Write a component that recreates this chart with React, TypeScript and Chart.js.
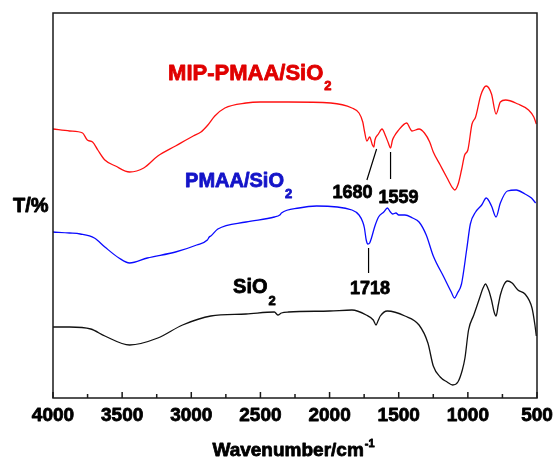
import { useEffect, useRef } from "react";
import { Chart, registerables } from "chart.js";

Chart.register(...registerables);

// FTIR spectra, transmittance in arbitrary offset units
const mipWavenumbers = [4000, 3880, 3786, 3752, 3714, 3676, 3625, 3548, 3446, 3344, 3242, 3114, 2986, 2930, 2880, 2830, 2757, 2604, 2501, 2300, 1991, 1838, 1787, 1760, 1748, 1730, 1710, 1690, 1680, 1672, 1647, 1621, 1595, 1575, 1559, 1545, 1531, 1506, 1442, 1420, 1404, 1353, 1314, 1276, 1250, 1200, 1150, 1110, 1095, 1070, 1046, 1023, 1000, 970, 944, 906, 867, 829, 796, 765, 727, 638, 561, 523, 505];
const mipValues = [269, 267, 265, 258, 256, 248, 238, 232, 226, 230, 242, 252, 262, 266, 273, 282, 290, 295, 296, 296, 295, 290, 285, 276, 267, 257, 261, 253, 251, 258, 264, 269, 262, 255, 250, 258, 262, 267, 275, 270, 267, 269, 265, 256, 246, 233, 220, 210, 208, 214, 228, 243, 248, 274, 281, 303, 312, 304, 284, 296, 298, 294, 288, 281, 274];

const pmaaWavenumbers = [4000, 3880, 3803, 3701, 3625, 3523, 3446, 3318, 3114, 2961, 2884, 2870, 2859, 2808, 2604, 2399, 2360, 2348, 2221, 2093, 1838, 1787, 1760, 1748, 1735, 1723, 1710, 1697, 1672, 1646, 1608, 1582, 1560, 1544, 1520, 1500, 1455, 1400, 1353, 1301, 1250, 1174, 1120, 1097, 1075, 1046, 1008, 982, 944, 900, 867, 829, 796, 765, 714, 650, 587, 540, 510];
const pmaaValues = [166, 165, 164, 160, 151, 140, 135, 140, 146, 153, 158, 161, 162, 169, 176, 181, 183, 185, 190, 192, 188, 183, 176, 170, 158, 154, 155, 160, 172, 181, 186, 190, 186, 184, 185, 183, 183, 180, 176, 163, 142, 121, 106, 100, 105, 114, 149, 174, 186, 193, 200, 192, 181, 195, 207, 208, 204, 200, 195];

const silicaWavenumbers = [4000, 3880, 3727, 3625, 3446, 3242, 3063, 2859, 2604, 2399, 2374, 2348, 2297, 2000, 1838, 1735, 1684, 1664, 1650, 1633, 1582, 1455, 1353, 1289, 1250, 1200, 1150, 1110, 1072, 1040, 1021, 995, 957, 920, 890, 873, 850, 829, 810, 796, 780, 765, 740, 714, 680, 638, 587, 536, 515, 505];
const silicaValues = [71, 71, 69, 62, 53, 60, 73, 82, 84, 86, 83, 85, 86, 87, 88, 83, 78, 73, 77, 82, 87, 82, 73, 55, 32, 21, 16, 13, 16, 28, 40, 68, 83, 98, 110, 114, 108, 98, 86, 82, 93, 103, 113, 117, 115, 108, 104, 90, 73, 62];

const seriesNames = ["MIP-PMAA/SiO", "PMAA/SiO", "SiO"];
const peakWavenumbers = [1680, 1559, 1718];
const tickWavenumbers = [4000, 3500, 3000, 2500, 2000, 1500, 1000, 500];

const FONT = '"Liberation Sans", Arial, sans-serif';

function toPoints(xs: number[], ys: number[]) {
  return xs.map((x, i) => ({ x, y: ys[i] }));
}

// heavy bold text: fill plus a thin outline of the same colour
function heavyText(ctx: CanvasRenderingContext2D, text: string, x: number, y: number, color: string) {
  ctx.fillStyle = color;
  ctx.strokeStyle = color;
  ctx.lineWidth = 0.8;
  ctx.lineJoin = "round";
  ctx.fillText(text, x, y);
  ctx.strokeText(text, x, y);
}

// text followed by a lowered (sub) or raised (sup) small suffix
function drawWithIndex(
  ctx: CanvasRenderingContext2D,
  text: string,
  index: string,
  x: number,
  y: number,
  size: number,
  indexSize: number,
  shift: number,
  color: string,
  align: "left" | "center"
) {
  ctx.font = `bold ${size}px ${FONT}`;
  const w = ctx.measureText(text).width;
  ctx.font = `bold ${indexSize}px ${FONT}`;
  const wi = ctx.measureText(index).width;
  const start = align === "center" ? x - (w + wi) / 2 : x;
  ctx.textAlign = "left";
  ctx.textBaseline = "alphabetic";
  ctx.font = `bold ${size}px ${FONT}`;
  heavyText(ctx, text, start, y, color);
  ctx.font = `bold ${indexSize}px ${FONT}`;
  heavyText(ctx, index, start + w + 1, y + shift, color);
}

const overlay = {
  id: "ftirOverlay",
  afterDraw(chart: any) {
    const { ctx, chartArea: a, scales } = chart;
    const xs = scales.x;
    const ys = scales.y;
    const px = (v: number) => xs.getPixelForValue(v);
    const py = (v: number) => ys.getPixelForValue(v);
    ctx.save();

    // frame
    ctx.strokeStyle = "#1a1a1a";
    ctx.lineWidth = 1.5;
    ctx.strokeRect(a.left, a.top, a.right - a.left, a.bottom - a.top);

    // inward ticks on the wavenumber axis
    ctx.beginPath();
    tickWavenumbers.forEach((v, i) => {
      const x = px(v);
      ctx.moveTo(x, a.bottom);
      ctx.lineTo(x, a.bottom - 6);
      if (i < tickWavenumbers.length - 1) {
        const m = px((v + tickWavenumbers[i + 1]) / 2);
        ctx.moveTo(m, a.bottom);
        ctx.lineTo(m, a.bottom - 4);
      }
    });
    ctx.stroke();

    // tick labels
    ctx.font = `bold 19px ${FONT}`;
    ctx.textAlign = "center";
    ctx.textBaseline = "alphabetic";
    tickWavenumbers.forEach((v) => heavyText(ctx, String(v), px(v), a.bottom + 23, "#000"));

    // axis titles
    drawWithIndex(ctx, "Wavenumber/cm", "-1", 293, 456, 19, 11, -9, "#000", "center");
    ctx.font = `bold 20px ${FONT}`;
    ctx.textAlign = "left";
    heavyText(ctx, "T/%", 13, 212, "#000");

    // series names
    drawWithIndex(ctx, seriesNames[0], "2", px(3168), py(318), 22, 13, 10, "#e00000", "left");
    drawWithIndex(ctx, seriesNames[1], "2", px(3045), py(211), 20, 13, 11, "#1414c8", "left");
    drawWithIndex(ctx, seriesNames[2], "2", px(2698), py(105), 20, 13, 12, "#000", "left");

    // peak markers
    ctx.strokeStyle = "#000";
    ctx.lineWidth = 1.2;
    ctx.beginPath();
    ctx.moveTo(px(1660), py(249));
    ctx.lineTo(px(1730), py(218));
    ctx.moveTo(px(peakWavenumbers[1]), py(246));
    ctx.lineTo(px(peakWavenumbers[1]), py(219));
    ctx.moveTo(px(peakWavenumbers[2]), py(150));
    ctx.lineTo(px(peakWavenumbers[2]), py(125));
    ctx.stroke();

    ctx.font = `bold 18px ${FONT}`;
    ctx.textAlign = "center";
    heavyText(ctx, String(peakWavenumbers[0]), px(1834), py(200), "#000");
    heavyText(ctx, String(peakWavenumbers[1]), px(1502), py(195), "#000");
    heavyText(ctx, String(peakWavenumbers[2]), px(1708), py(104), "#000");

    ctx.restore();
  },
};

export default function App() {
  const canvasRef = useRef<HTMLCanvasElement | null>(null);

  useEffect(() => {
    document.body.style.margin = "0";
    const canvas = canvasRef.current;
    if (!canvas) return;
    const line = (data: any, color: string) => ({
      data,
      borderColor: color,
      borderWidth: 1.3,
      pointRadius: 0,
      fill: false,
      cubicInterpolationMode: "monotone" as const,
    });
    const chart = new Chart(canvas, {
      type: "line",
      data: {
        datasets: [
          line(toPoints(mipWavenumbers, mipValues), "#ff1010"),
          line(toPoints(pmaaWavenumbers, pmaaValues), "#0a0aff"),
          line(toPoints(silicaWavenumbers, silicaValues), "#111111"),
        ],
      },
      options: {
        responsive: false,
        animation: false,
        devicePixelRatio: 1,
        layout: { padding: { left: 53, right: 17, top: 13, bottom: 0 } },
        plugins: { legend: { display: false }, tooltip: { enabled: false } },
        scales: {
          x: {
            type: "linear",
            reverse: true,
            min: 500,
            max: 4000,
            ticks: { display: false, stepSize: 500 },
            grid: { display: false },
            border: { display: false },
            afterFit: (s: any) => {
              s.height = 65;
            },
          },
          y: {
            type: "linear",
            min: 0,
            max: 385,
            display: false,
          },
        },
      },
      plugins: [overlay],
    });
    return () => chart.destroy();
  }, []);

  return <canvas ref={canvasRef} width={554} height={463} style={{ display: "block" }} />;
}
